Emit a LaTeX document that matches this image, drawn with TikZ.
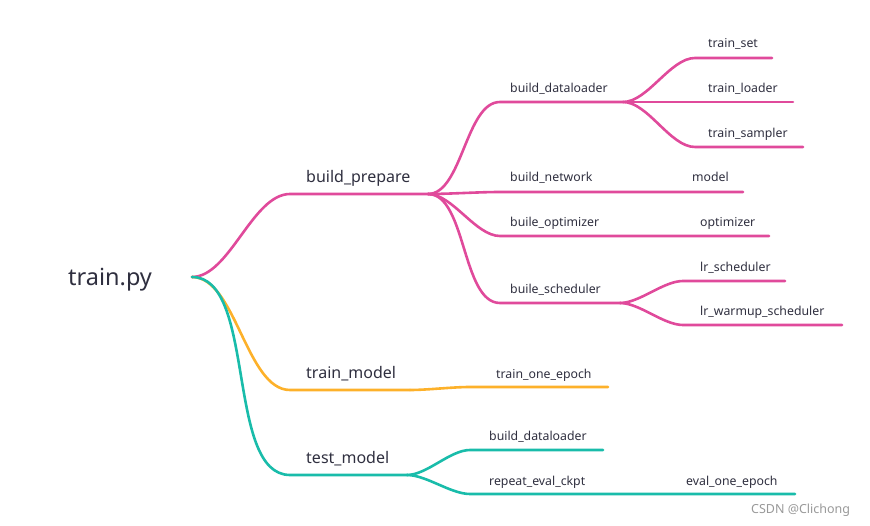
\documentclass[tikz,border=0pt]{standalone}
\usepackage{fontspec}
\setmainfont{Noto Sans}
\definecolor{mmpink}{RGB}{224,74,155}
\definecolor{mmorange}{RGB}{253,177,42}
\definecolor{mmteal}{RGB}{25,188,170}
\definecolor{txtdark}{RGB}{47,47,63}
\tikzset{
  lbl/.style={anchor=base west, inner sep=0pt, text=txtdark, font=\fontsize{12.3}{14}\selectfont},
  biglbl/.style={lbl, font=\fontsize{16}{19}\selectfont},
  branch/.style={line width=2.6pt, line cap=round},
  sway/.style={out=0, in=180, looseness=0.75},
}
\begin{document}
\begin{tikzpicture}[x=1pt, y=-1pt]

	\useasboundingbox (0,0) rectangle (870,526);

    % root
    \node[lbl, font=\fontsize{23.5}{28}\selectfont] (root) at (68,286) {train.py};
    \coordinate (r) at (192,277);

    % build_prepare
    \coordinate (bp-s) at (290,194);
    \coordinate (bp-e) at (428,194);
    \node[biglbl] (bp) at (306,183) {build\_prepare};

    \coordinate (bd-s) at (500,102);
    \coordinate (bd-e) at (623,102);
    \node[lbl] (bd) at (510,93) {build\_dataloader};
    \coordinate (ts-s) at (695,58);
    \coordinate (ts-e) at (772,58);
    \node[lbl] (ts) at (708,48) {train\_set};
    \coordinate (tl-e) at (793,102);
    \node[lbl] (tl) at (708,93) {train\_loader};
    \coordinate (tsa-s) at (695,147);
    \coordinate (tsa-e) at (803,147);
    \node[lbl] (tsa) at (708,138) {train\_sampler};

    \coordinate (bn-s) at (500,192);
    \coordinate (bn-e) at (620,192);
    \node[lbl] (bn) at (510,182) {build\_network};
    \coordinate (md-e) at (743,192);
    \node[lbl] (md) at (692,182) {model};

    \coordinate (bo-s) at (500,236);
    \coordinate (bo-e) at (620,236);
    \node[lbl] (bo) at (510,227) {buile\_optimizer};
    \coordinate (op-e) at (769,236);
    \node[lbl] (op) at (700,227) {optimizer};

    \coordinate (bs-s) at (500,303);
    \coordinate (bs-e) at (620,303);
    \node[lbl] (bs) at (510,294) {buile\_scheduler};
    \coordinate (ls-s) at (683,281);
    \coordinate (ls-e) at (785,281);
    \node[lbl] (ls) at (700,272) {lr\_scheduler};
    \coordinate (lw-s) at (683,325);
    \coordinate (lw-e) at (842,325);
    \node[lbl] (lw) at (700,316) {lr\_warmup\_scheduler};

    \draw[branch, mmpink] (r) to[sway] (bp-s) -- (bp-e);
    \draw[branch, mmpink] (bp-e) to[sway] (bd-s) -- (bd-e);
    \draw[branch, mmpink] (bd-e) to[sway] (ts-s) -- (ts-e);
    \draw[branch, mmpink] (bd-e) -- (tl-e);
    \draw[branch, mmpink] (bd-e) to[sway] (tsa-s) -- (tsa-e);
    \draw[branch, mmpink] (bp-e) to[sway] (bn-s) -- (bn-e) -- (md-e);
    \draw[branch, mmpink] (bp-e) to[sway] (bo-s) -- (bo-e) -- (op-e);
    \draw[branch, mmpink] (bp-e) to[sway] (bs-s) -- (bs-e);
    \draw[branch, mmpink] (bs-e) to[sway] (ls-s) -- (ls-e);
    \draw[branch, mmpink] (bs-e) to[sway] (lw-s) -- (lw-e);

    % train_model
    \coordinate (tm-s) at (290,390);
    \coordinate (tm-e) at (410,390);
    \node[biglbl] (tm) at (306,378) {train\_model};
    \coordinate (te-s) at (470,387);
    \coordinate (te-e) at (608,387);
    \node[lbl] (te) at (496,379) {train\_one\_epoch};

    \draw[branch, mmorange] (r) to[sway] (tm-s) -- (tm-e);
    \draw[branch, mmorange] (tm-e) to[sway] (te-s) -- (te-e);

    % test_model
    \coordinate (tt-s) at (290,475);
    \coordinate (tt-e) at (407,475);
    \node[biglbl] (tt) at (306,463) {test\_model};
    \coordinate (td-s) at (470,450);
    \coordinate (td-e) at (603,450);
    \node[lbl] (td) at (489,440) {build\_dataloader};
    \coordinate (rc-s) at (470,494);
    \coordinate (rc-e) at (612,494);
    \node[lbl] (rc) at (489,485) {repeat\_eval\_ckpt};
    \coordinate (ev-e) at (795,494);
    \node[lbl] (ev) at (686,485) {eval\_one\_epoch};

    \draw[branch, mmteal] (r) to[sway] (tt-s) -- (tt-e);
    \draw[branch, mmteal] (tt-e) to[sway] (td-s) -- (td-e);
    \draw[branch, mmteal] (tt-e) to[sway] (rc-s) -- (rc-e) -- (ev-e);

    \node[lbl, text=black!40, font=\fontsize{12.5}{14}\selectfont] (wm) at (751,513) {CSDN @Clichong};

\end{tikzpicture}
\end{document}
